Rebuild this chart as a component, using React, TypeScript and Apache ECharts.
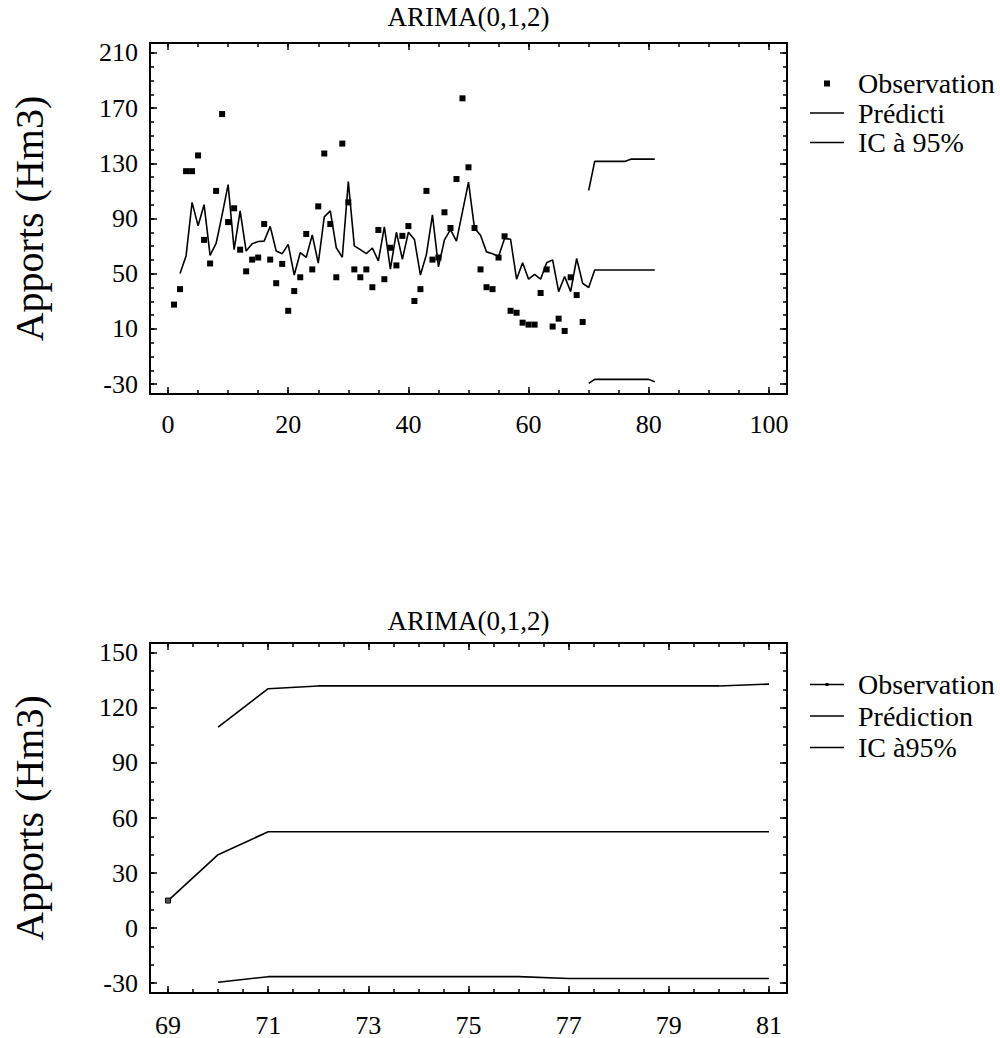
import React, { useEffect, useRef } from "react";
import * as echarts from "echarts";

const FONT = "Liberation Serif";

// ---------- texts ----------
const chartTitle = "ARIMA(0,1,2)";
const yAxisName = "Apports (Hm3)";
const topLegendLabels = ["Observation", "Prédicti", "IC à 95%"];
const bottomLegendLabels = ["Observation", "Prédiction", "IC à95%"];

// ---------- top chart data ----------
const topObsStart = 1;
const topObs = [
  27.6, 38.8, 124.3, 124.3, 135.7, 74.5, 57.4, 110, 165.7, 87.4,
  97.4, 67.4, 51.7, 60.2, 61.7, 86, 60.2, 43.1, 57.1, 23.1,
  37.4, 47.4, 78.8, 53.1, 98.8, 137.1, 86, 47.4, 144.3, 101.7,
  53.1, 47.4, 53.1, 40.2, 81.7, 46, 68.8, 56, 77.4, 84.5,
  30.2, 38.8, 110, 60.2, 61.7, 94.5, 83.1, 118.6, 177.1, 127.1,
  83.1, 53.1, 40.2, 38.8, 61.7, 77.1, 23.1, 21.7, 14.5, 13.1,
  13.1, 36, 53.1, 11.7, 17.4, 8.5, 47.4, 34.5, 15,
];
const topPredStart = 2;
const topPred = [
  50.2, 62.9, 101.7, 84.8, 100, 63.3, 71.9, 92.6, 114.5, 67.4,
  95.5, 66.4, 71.7, 73.3, 73.6, 84.3, 66.4, 64.5, 71.2, 49,
  65.2, 61.9, 78.1, 57.6, 91.2, 95.5, 68.8, 61.9, 116.7, 70.2,
  67.4, 64.5, 68.6, 59.3, 84, 53.3, 80, 60.5, 80, 74.8,
  49, 64, 92.6, 55, 74.5, 81.9, 73.6, 95, 116.4, 83,
  77.8, 65.8, 64.5, 62.5, 75.5, 75, 46, 58, 46, 49.5,
  46, 58, 60, 37, 48, 37, 61, 43, 40, 52.7,
  52.7, 52.7, 52.7, 52.7, 52.7, 52.7, 52.7, 52.7, 52.7, 52.7,
];
const topCIStart = 70;
const topUpper = [110.4, 131.4, 131.4, 131.4, 131.4, 131.4, 131.4, 133, 133, 133, 133, 133];
const topLower = [-29.5, -26.6, -26.6, -26.6, -26.6, -26.6, -26.6, -26.6, -26.6, -26.6, -26.6, -28.3];

// ---------- bottom chart data ----------
const bottomObsStart = 69;
const bottomObs = [15];
const bottomPredStart = 69;
const bottomPred = [15, 40, 52.5, 52.5, 52.5, 52.5, 52.5, 52.5, 52.5, 52.5, 52.5, 52.5, 52.5];
const bottomCIStart = 70;
const bottomUpper = [109.5, 130.5, 132, 132, 132, 132, 132, 132, 132, 132, 132, 133];
const bottomLower = [-29.5, -26.5, -26.5, -26.5, -26.5, -26.5, -26.5, -27.5, -27.5, -27.5, -27.5, -27.5];

// ---------- axes ticks ----------
const topXMajor = [0, 20, 40, 60, 80, 100];
const topXMinor = [0, 5, 10, 15, 20, 25, 30, 35, 40, 45, 50, 55, 60, 65, 70, 75, 80, 85, 90, 95, 100];
const topYMajor = [-30, 10, 50, 90, 130, 170, 210];
const topYMinor = [-30, -20, -10, 0, 10, 20, 30, 40, 50, 60, 70, 80, 90, 100, 110, 120, 130, 140, 150, 160, 170, 180, 190, 200, 210];
const bottomXMajor = [69, 71, 73, 75, 77, 79, 81];
const bottomXMinor = [69, 69.5, 70, 70.5, 71, 71.5, 72, 72.5, 73, 73.5, 74, 74.5, 75, 75.5, 76, 76.5, 77, 77.5, 78, 78.5, 79, 79.5, 80, 80.5, 81];
const bottomYMajor = [-30, 0, 30, 60, 90, 120, 150];
const bottomYMinor = [-30, -20, -10, 0, 10, 20, 30, 40, 50, 60, 70, 80, 90, 100, 110, 120, 130, 140, 150];

const topXRange = [-3, 103];
const topYRange = [-37.2, 217.2];
const bottomXRange = [68.64, 81.36];
const bottomYRange = [-35.4, 155.4];

const toPairs = (start: number, vals: number[]) => vals.map((v, i) => [start + i, v]);

const tickLine = { color: "#000", width: 1.5 };
const labelStyle = { fontSize: 26, fontFamily: FONT, color: "#000" };

function makeXAxes(gridIndex: number, range: number[], major: number[], minor: number[], margin: number) {
  const base: any = {
    type: "value",
    gridIndex,
    min: range[0],
    max: range[1],
    axisLine: { show: false, onZero: false },
    splitLine: { show: false },
    axisLabel: { show: false },
    axisTick: { show: false },
  };
  return [
    {
      ...base,
      position: "bottom",
      axisTick: { show: true, inside: true, length: 7, customValues: major, lineStyle: tickLine },
      axisLabel: { show: true, customValues: major, margin, ...labelStyle },
    },
    { ...base, position: "bottom", axisTick: { show: true, inside: true, length: 4, customValues: minor, lineStyle: tickLine } },
    { ...base, position: "top", axisTick: { show: true, inside: true, length: 7, customValues: major, lineStyle: tickLine } },
    { ...base, position: "top", axisTick: { show: true, inside: true, length: 4, customValues: minor, lineStyle: tickLine } },
  ];
}

function makeYAxes(gridIndex: number, range: number[], major: number[], minor: number[]) {
  const base: any = {
    type: "value",
    gridIndex,
    min: range[0],
    max: range[1],
    axisLine: { show: false, onZero: false },
    splitLine: { show: false },
    axisLabel: { show: false },
    axisTick: { show: false },
  };
  return [
    {
      ...base,
      position: "left",
      name: yAxisName,
      nameLocation: "middle",
      nameRotate: 90,
      nameGap: 101,
      nameTextStyle: { fontSize: 40, fontFamily: FONT, color: "#000" },
      axisTick: { show: true, inside: true, length: 7, customValues: major, lineStyle: tickLine },
      axisLabel: { show: true, customValues: major, margin: 12, ...labelStyle },
    },
    { ...base, position: "left", axisTick: { show: true, inside: true, length: 4, customValues: minor, lineStyle: tickLine } },
    { ...base, position: "right", axisTick: { show: true, inside: true, length: 7, customValues: major, lineStyle: tickLine } },
    { ...base, position: "right", axisTick: { show: true, inside: true, length: 4, customValues: minor, lineStyle: tickLine } },
  ];
}

const lineSeries = (name: string, data: number[][], axis: number) => ({
  type: "line",
  name,
  data,
  xAxisIndex: axis,
  yAxisIndex: axis,
  symbol: "none",
  showSymbol: false,
  lineStyle: { color: "#000", width: 1.6 },
  itemStyle: { color: "#000" },
  z: 3,
});

const nameMap: Record<string, string> = {
  obs1: topLegendLabels[0],
  pred1: topLegendLabels[1],
  ic1: topLegendLabels[2],
  obs2: bottomLegendLabels[0],
  pred2: bottomLegendLabels[1],
  ic2: bottomLegendLabels[2],
};

const ICON_SQUARE = "path://M0 0H1V1H0Z";
const ICON_LINE = "path://M0 0H34V1.6H0Z";
const ICON_LINE_DOT = "path://M0 2.3H34V3.7H0Z M15.5 1.5H18.5V4.5H15.5Z";

const legendBase = {
  orient: "vertical",
  left: 805,
  itemWidth: 34,
  itemHeight: 6,
  selectedMode: false,
  symbolKeepAspect: true,
  formatter: (n: string) => nameMap[n] ?? n,
  textStyle: { fontSize: 28, fontFamily: FONT, color: "#000", lineHeight: 29, padding: [0, 0, 0, 9] },
};

export default function App() {
  const ref = useRef<HTMLDivElement>(null);

  useEffect(() => {
    document.body.style.margin = "0";
    if (!ref.current) return;
    const chart = echarts.init(ref.current, undefined, { renderer: "svg" });

    const option: any = {
      animation: false,
      backgroundColor: "#fff",
      textStyle: { fontFamily: FONT, color: "#000" },
      grid: [
        { left: 150, top: 43, width: 637, height: 351, show: true, borderColor: "#000", borderWidth: 2, backgroundColor: "transparent" },
        { left: 150, top: 643, width: 637, height: 352, show: true, borderColor: "#000", borderWidth: 2, backgroundColor: "transparent" },
      ],
      xAxis: [
        ...makeXAxes(0, topXRange, topXMajor, topXMinor, 17),
        ...makeXAxes(1, bottomXRange, bottomXMajor, bottomXMinor, 19),
      ],
      yAxis: [
        ...makeYAxes(0, topYRange, topYMajor, topYMinor),
        ...makeYAxes(1, bottomYRange, bottomYMajor, bottomYMinor),
      ],
      legend: [
        {
          ...legendBase,
          top: 64,
          itemGap: 0.5,
          data: [
            { name: "obs1", icon: ICON_SQUARE },
            { name: "pred1", icon: ICON_LINE },
            { name: "ic1", icon: ICON_LINE },
          ],
        },
        {
          ...legendBase,
          top: 665,
          itemGap: 2.5,
          data: [
            { name: "obs2", icon: ICON_LINE_DOT, itemStyle: { color: "#000", borderWidth: 0 } },
            { name: "pred2", icon: ICON_LINE },
            { name: "ic2", icon: ICON_LINE },
          ],
        },
      ],
      graphic: [
        {
          type: "text",
          x: 468.5,
          y: 17,
          style: { text: chartTitle, fontSize: 27, fontFamily: FONT, fill: "#000", align: "center", verticalAlign: "middle" },
        },
        {
          type: "text",
          x: 468.5,
          y: 621,
          style: { text: chartTitle, fontSize: 27, fontFamily: FONT, fill: "#000", align: "center", verticalAlign: "middle" },
        },
      ],
      series: [
        {
          type: "scatter",
          name: "obs1",
          data: toPairs(topObsStart, topObs),
          xAxisIndex: 0,
          yAxisIndex: 0,
          symbol: "rect",
          symbolSize: 6,
          itemStyle: { color: "#000", opacity: 1 },
          z: 4,
        },
        lineSeries("pred1", toPairs(topPredStart, topPred), 0),
        lineSeries("ic1", toPairs(topCIStart, topUpper), 0),
        lineSeries("ic1", toPairs(topCIStart, topLower), 0),
        {
          type: "line",
          name: "obs2",
          data: toPairs(bottomObsStart, bottomObs),
          xAxisIndex: 4,
          yAxisIndex: 4,
          symbol: "rect",
          symbolSize: 5,
          showSymbol: true,
          lineStyle: { color: "#000", width: 1.6 },
          itemStyle: { color: "#555", borderColor: "#000", borderWidth: 1 },
          z: 4,
        },
        lineSeries("pred2", toPairs(bottomPredStart, bottomPred), 4),
        lineSeries("ic2", toPairs(bottomCIStart, bottomUpper), 4),
        lineSeries("ic2", toPairs(bottomCIStart, bottomLower), 4),
      ],
    };

    chart.setOption(option);
    return () => chart.dispose();
  }, []);

  return <div ref={ref} style={{ width: 1000, height: 1038 }} />;
}
